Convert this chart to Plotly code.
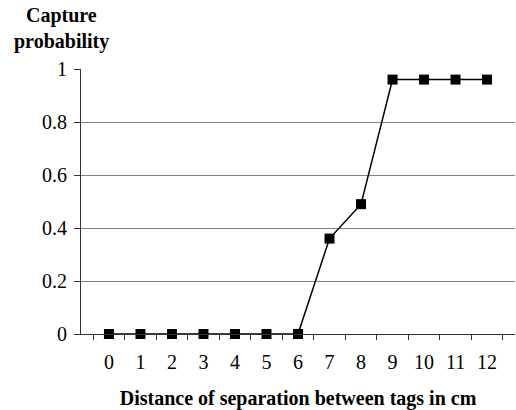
import plotly.graph_objects as go

distances = ["0", "1", "2", "3", "4", "5", "6", "7", "8", "9", "10", "11", "12"]
capture_prob = [0, 0, 0, 0, 0, 0, 0, 0.36, 0.49, 0.96, 0.96, 0.96, 0.96]
y_ticks = [0, 0.2, 0.4, 0.6, 0.8, 1]
y_ticktext = ["0", "0.2", "0.4", "0.6", "0.8", "1"]

font = "Liberation Serif, Times New Roman, serif"

fig = go.Figure()
fig.add_trace(go.Scatter(
    x=distances, y=capture_prob, mode="lines+markers",
    line=dict(color="black", width=1.5),
    marker=dict(symbol="square", size=10, color="black"),
    cliponaxis=False,
))

fig.update_layout(
    width=516, height=410,
    margin=dict(l=81, r=1, t=69, b=76),
    paper_bgcolor="white", plot_bgcolor="white",
    showlegend=False,
    font=dict(family=font, size=20, color="black"),
    xaxis=dict(
        type="category", tickson="boundaries", ticks="outside", ticklen=5,
        tickcolor="#333", showline=True, linecolor="#333", linewidth=1,
        showgrid=False, zeroline=False,
        tickfont=dict(size=20), ticklabelstandoff=10,
        title=dict(text="<b>Distance of separation between tags in cm</b>",
                   font=dict(size=20), standoff=19),
    ),
    yaxis=dict(
        range=[0, 1], tickvals=y_ticks, ticktext=y_ticktext,
        ticks="outside", ticklen=6, tickcolor="#333",
        showline=True, linecolor="#333", linewidth=1,
        showgrid=True, gridcolor="#808080", gridwidth=1,
        zeroline=False, tickfont=dict(size=20), ticklabelstandoff=3,
    ),
    annotations=[
        dict(text="<b>Capture</b>", xref="paper", yref="paper",
             x=-0.046, y=(334 - 15) / 265, xanchor="center", yanchor="middle",
             showarrow=False, font=dict(size=20, family=font)),
        dict(text="<b>probability</b>", xref="paper", yref="paper",
             x=-0.046, y=(334 - 41) / 265, xanchor="center", yanchor="middle",
             showarrow=False, font=dict(size=20, family=font)),
    ],
)

fig.write_html("out.html")
